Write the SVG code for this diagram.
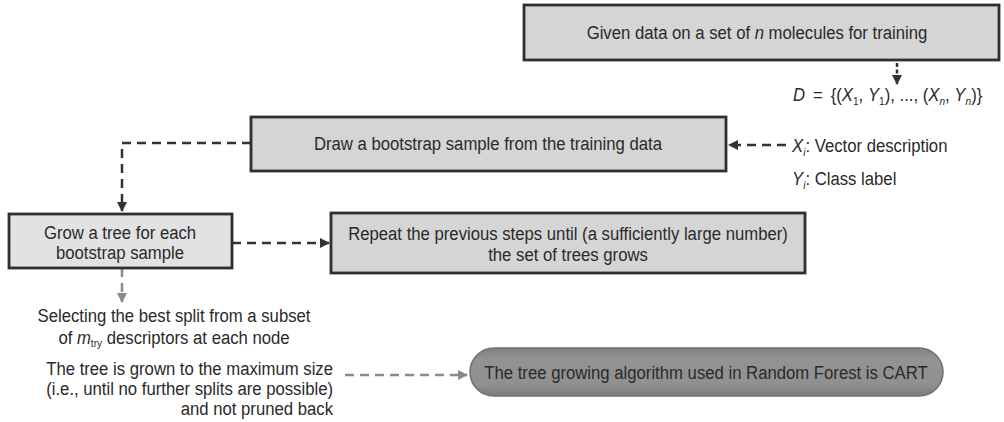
<svg xmlns="http://www.w3.org/2000/svg" width="1004" height="422" viewBox="0 0 1004 422">
  <style>
    text { font-family: "Liberation Sans", Arial, sans-serif; font-size: 19px; fill: #2a2a2a; }
    .c { text-anchor: middle; }
    .r { text-anchor: end; }
    .i { font-style: italic; }
    .sub { font-size: 11.5px; }
    .box { fill: #d5d5d5; stroke: #2f2f2f; stroke-width: 2.8; }
    .box-light { fill: #e2e2e2; stroke: #2f2f2f; stroke-width: 2.8; }
    .dash { fill: none; stroke: #333; stroke-width: 2.5; stroke-dasharray: 9 6; }
    .dash-grey { fill: none; stroke: #8a8a8a; stroke-width: 2.5; stroke-dasharray: 9 6; }
    .dot { fill: none; stroke: #333; stroke-width: 2.5; stroke-dasharray: 4 2.5; }
  </style>
  <defs>
    <marker id="ah" viewBox="0 0 10 10" refX="9" refY="5" markerWidth="4" markerHeight="4" orient="auto" markerUnits="strokeWidth">
      <path d="M0,0 L10,5 L0,10 z" fill="#333"/>
    </marker>
    <marker id="ah-grey" viewBox="0 0 10 10" refX="9" refY="5" markerWidth="4" markerHeight="4" orient="auto" markerUnits="strokeWidth">
      <path d="M0,0 L10,5 L0,10 z" fill="#8a8a8a"/>
    </marker>
    <linearGradient id="pillFill" x1="0" y1="0" x2="0" y2="1">
      <stop offset="0" stop-color="#828282"/>
      <stop offset="0.25" stop-color="#939393"/>
      <stop offset="0.75" stop-color="#909090"/>
      <stop offset="1" stop-color="#7c7c7c"/>
    </linearGradient>
  </defs>

  <!-- connectors -->
  <g id="connectors">
    <path class="dot" d="M897,63 V84" marker-end="url(#ah)"/>
    <path class="dash" d="M786,145 H729" marker-end="url(#ah)"/>
    <path class="dash" d="M251,143 H122 V211" marker-end="url(#ah)"/>
    <path class="dash" d="M232,243 H329" marker-end="url(#ah)"/>
    <path class="dash-grey" d="M122,268 V302" marker-end="url(#ah-grey)"/>
    <path class="dash-grey" d="M345,375 H467" marker-end="url(#ah-grey)"/>
  </g>

  <!-- start: training data -->
  <g id="node-given">
    <rect class="box" x="524" y="5" width="475" height="55"/>
    <text class="c" transform="translate(757 39) scale(0.88 1)">Given data on a set of <tspan class="i">n</tspan> molecules for training</text>
  </g>

  <!-- data set definition -->
  <g id="node-dataset">
    <text transform="translate(793 101) scale(0.88 1)"><tspan class="i">D</tspan><tspan dx="9">=</tspan><tspan dx="9">{(</tspan><tspan class="i">X</tspan><tspan class="sub" dy="4">1</tspan><tspan dy="-4">, </tspan><tspan class="i">Y</tspan><tspan class="sub" dy="4">1</tspan><tspan dy="-4">), ..., (</tspan><tspan class="i">X</tspan><tspan class="sub i" dy="4">n</tspan><tspan dy="-4">, </tspan><tspan class="i">Y</tspan><tspan class="sub i" dy="4">n</tspan><tspan dy="-4">)}</tspan></text>
    <text transform="translate(792 152) scale(0.88 1)"><tspan class="i">X</tspan><tspan class="sub i" dy="4">i</tspan><tspan dy="-4">: Vector description</tspan></text>
    <text transform="translate(792 185) scale(0.88 1)"><tspan class="i">Y</tspan><tspan class="sub i" dy="4">i</tspan><tspan dy="-4">: Class label</tspan></text>
  </g>

  <!-- bootstrap sampling -->
  <g id="node-bootstrap">
    <rect class="box" x="251" y="117" width="475" height="54"/>
    <text class="c" transform="translate(488 150) scale(0.88 1)">Draw a bootstrap sample from the training data</text>
  </g>

  <!-- tree growing -->
  <g id="node-grow">
    <rect class="box-light" x="9" y="214" width="223" height="54"/>
    <text class="c" transform="translate(120 239) scale(0.88 1)"><tspan x="0" y="0">Grow a tree for each</tspan><tspan x="0" y="20">bootstrap sample</tspan></text>
  </g>

  <!-- repetition -->
  <g id="node-repeat">
    <rect class="box" x="331" y="213" width="474" height="60"/>
    <text class="c" transform="translate(568 240) scale(0.88 1)"><tspan x="0" y="0">Repeat the previous steps until (a sufficiently large number)</tspan><tspan x="0" y="21">the set of trees grows</tspan></text>
  </g>

  <!-- split notes -->
  <g id="node-split">
    <text class="c" transform="translate(174 322) scale(0.88 1)">Selecting the best split from a subset</text>
    <text class="c" transform="translate(174 344) scale(0.88 1)">of <tspan class="i">m</tspan><tspan class="sub" dy="3">try</tspan><tspan dy="-3"> descriptors at each node</tspan></text>
  </g>

  <g id="node-maxsize">
    <text class="r" transform="translate(333 375) scale(0.88 1)"><tspan x="0" y="0">The tree is grown to the maximum size</tspan><tspan x="0" y="20">(i.e., until no further splits are possible)</tspan><tspan x="0" y="40">and not pruned back</tspan></text>
  </g>

  <!-- algorithm note -->
  <g id="node-cart">
    <rect x="470" y="348" width="473" height="48" rx="24" ry="24" fill="url(#pillFill)" stroke="#707070" stroke-width="1.5"/>
    <text class="c" transform="translate(706 379) scale(0.88 1)">The tree growing algorithm used in Random Forest is CART</text>
  </g>
</svg>
